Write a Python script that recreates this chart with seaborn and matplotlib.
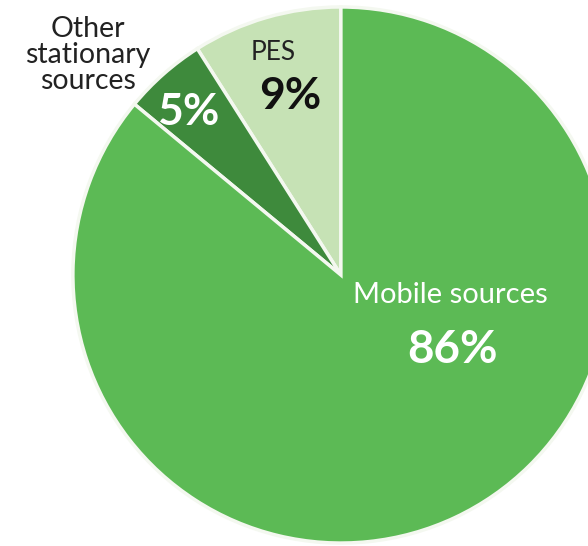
import matplotlib
matplotlib.use("Agg")
import matplotlib.pyplot as plt
import seaborn as sns

sns.set_theme(style="white")
plt.rcParams["font.family"] = ["Lato", "DejaVu Sans"]

# Emission source shares (percent)
sources = ["PES", "Other stationary sources", "Mobile sources"]
shares = [9, 5, 86]
colors = ["#c6e2b5", "#3e8a3c", "#5cba55"]

fig = plt.figure(figsize=(5.88, 5.46), dpi=100)
ax = fig.add_axes([0, 0, 1, 1])

wedges, _ = ax.pie(
    shares,
    colors=colors,
    startangle=90,
    counterclock=True,
    radius=1.0,
    center=(0, 0),
    wedgeprops=dict(edgecolor="#f4f8f0", linewidth=2.5),
)

# Pie is framed so its right edge runs off the canvas
ax.set_xlim(-1.272, 0.922)
ax.set_ylim(-1.011, 1.026)
ax.set_aspect("auto")
ax.axis("off")

ax.text(-0.944, 0.821, "Other\nstationary\nsources", ha="center", va="center",
        fontsize=20.5, color="#222222", linespacing=1.0)
ax.text(-0.254, 0.832, "PES", ha="center", va="center", fontsize=19, color="#222222")
ax.text(-0.190, 0.668, f"{shares[0]}%", ha="center", va="center", fontsize=32,
        fontweight="bold", color="#111111")
ax.text(-0.571, 0.608, f"{shares[1]}%", ha="center", va="center", fontsize=32,
        fontweight="bold", color="white")
ax.text(0.407, -0.075, "Mobile sources", ha="center", va="center", fontsize=21,
        color="white")
ax.text(0.418, -0.280, f"{shares[2]}%", ha="center", va="center", fontsize=33,
        fontweight="bold", color="white")

fig.savefig("out.png", dpi=100)
